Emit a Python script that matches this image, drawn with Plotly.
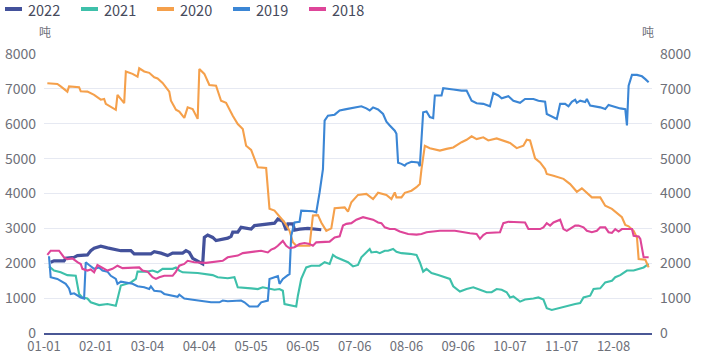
import pandas as pd
import plotly.graph_objects as go

# ---- categories (days of the year, MM-DD) ----
dates = list(pd.date_range("2021-01-01", "2021-12-31", freq="D").strftime("%m-%d"))
tick_idx = list(range(0, 342, 31))
tick_labels = [dates[i] for i in tick_idx]
y_ticks = [0, 1000, 2000, 3000, 4000, 5000, 6000, 7000, 8000]
unit = "吨"

# ---- series (day index -> tonnes) ----
d2022 = [4, 6, 12, 13, 18, 20, 26, 28, 30, 34, 38, 42, 46, 52, 54, 64, 66, 70, 74, 77, 83, 85, 87, 89, 92, 95, 96, 98, 101, 103, 110, 112, 113, 116, 118, 124, 126, 130, 138, 140, 143, 145, 146, 149, 150, 153, 158, 166]
v2022 = [2030, 2070, 2070, 2140, 2170, 2220, 2240, 2360, 2430, 2490, 2440, 2410, 2360, 2360, 2270, 2270, 2330, 2290, 2220, 2290, 2290, 2360, 2310, 2140, 2070, 1980, 2740, 2810, 2740, 2650, 2720, 2770, 2890, 2890, 3030, 2980, 3080, 3100, 3150, 3270, 3200, 2950, 3130, 3130, 2950, 2980, 3000, 2960]

d2021 = [3, 6, 10, 14, 19, 21, 23, 26, 28, 33, 38, 43, 46, 49, 52, 55, 56, 62, 65, 68, 71, 77, 79, 81, 83, 92, 96, 101, 104, 110, 114, 116, 124, 128, 131, 135, 138, 141, 143, 144, 149, 151, 152, 154, 157, 160, 165, 168, 171, 173, 175, 179, 182, 185, 188, 190, 193, 195, 196, 199, 201, 204, 206, 209, 211, 214, 219, 223, 225, 227, 229, 232, 236, 240, 243, 245, 249, 253, 257, 261, 265, 268, 271, 274, 277, 279, 281, 285, 288, 293, 296, 299, 301, 304, 308, 311, 314, 318, 321, 323, 327, 329, 333, 336, 340, 342, 345, 349, 353, 356, 359, 362]
v2021 = [1910, 1790, 1740, 1660, 1640, 1120, 1020, 990, 880, 800, 830, 780, 1360, 1410, 1450, 1550, 1760, 1760, 1790, 1740, 1840, 1840, 1880, 1790, 1740, 1720, 1690, 1660, 1600, 1570, 1600, 1310, 1280, 1260, 1310, 1260, 1240, 1260, 1210, 830, 780, 760, 1070, 1550, 1880, 1930, 1930, 2030, 1980, 2240, 2170, 2100, 2030, 1910, 1950, 2170, 2310, 2410, 2310, 2330, 2290, 2360, 2360, 2410, 2330, 2290, 2270, 2240, 2030, 1760, 1840, 1720, 1660, 1600, 1550, 1340, 1190, 1260, 1310, 1240, 1170, 1170, 1260, 1240, 1170, 1020, 1050, 900, 960, 990, 1020, 960, 710, 660, 710, 760, 800, 830, 860, 1020, 1070, 1260, 1280, 1450, 1500, 1600, 1660, 1790, 1790, 1840, 1880, 1980]

d2020 = [2, 8, 10, 14, 15, 21, 22, 26, 30, 34, 36, 37, 43, 44, 48, 49, 53, 56, 57, 60, 63, 66, 68, 71, 75, 76, 79, 81, 84, 86, 89, 92, 93, 96, 99, 103, 106, 109, 113, 116, 119, 121, 124, 126, 128, 133, 135, 138, 141, 144, 147, 149, 151, 159, 161, 164, 166, 169, 172, 174, 180, 182, 184, 188, 193, 197, 200, 205, 208, 210, 211, 214, 216, 220, 223, 225, 226, 228, 231, 237, 241, 245, 250, 253, 256, 259, 263, 266, 271, 279, 283, 287, 289, 291, 294, 297, 300, 301, 305, 311, 315, 319, 322, 325, 328, 333, 336, 340, 343, 346, 348, 350, 353, 355, 356, 360, 362]
v2020 = [7160, 7140, 7070, 6920, 7070, 7050, 6930, 6920, 6830, 6690, 6710, 6570, 6400, 6830, 6590, 7500, 7430, 7350, 7590, 7500, 7460, 7330, 7300, 7170, 6920, 6660, 6400, 6350, 6170, 6470, 6420, 6140, 7570, 7430, 7110, 7090, 6660, 6600, 6230, 5990, 5850, 5370, 5250, 4990, 4750, 4730, 3560, 3510, 3350, 3170, 2930, 2600, 2500, 2500, 3370, 3380, 3170, 2930, 3000, 3580, 3600, 3480, 3750, 3960, 3990, 3840, 4020, 3960, 3840, 4030, 3890, 3890, 4020, 4080, 4180, 4270, 4700, 5370, 5300, 5230, 5280, 5320, 5470, 5540, 5640, 5560, 5610, 5520, 5580, 5450, 5300, 5370, 5540, 5520, 5010, 4890, 4700, 4560, 4510, 4420, 4270, 4050, 4150, 4020, 3890, 3890, 3650, 3560, 3440, 3320, 3100, 3060, 2930, 2740, 2120, 2100, 1880]

d2019 = [3, 4, 8, 13, 15, 16, 18, 20, 22, 24, 25, 27, 30, 33, 35, 38, 40, 43, 44, 46, 49, 53, 56, 60, 63, 64, 66, 70, 72, 76, 80, 81, 84, 88, 92, 96, 100, 105, 107, 110, 113, 118, 120, 123, 128, 130, 134, 135, 138, 140, 141, 143, 146, 147, 148, 150, 153, 154, 161, 163, 165, 167, 168, 170, 174, 177, 181, 184, 187, 190, 193, 195, 197, 200, 203, 205, 207, 210, 211, 212, 214, 216, 217, 220, 224, 225, 227, 229, 231, 233, 234, 238, 239, 241, 245, 250, 253, 256, 259, 263, 267, 269, 272, 274, 278, 281, 285, 288, 293, 296, 300, 301, 305, 307, 309, 312, 314, 316, 318, 319, 321, 324, 325, 327, 333, 336, 338, 342, 345, 348, 349, 350, 352, 355, 358, 360, 362]
v2019 = [2200, 1600, 1550, 1410, 1280, 1120, 1140, 1070, 1020, 990, 2030, 1950, 1840, 1880, 1790, 1760, 1640, 1550, 1410, 1470, 1450, 1410, 1340, 1310, 1260, 1340, 1210, 1190, 1120, 1070, 1040, 1100, 990, 960, 930, 900, 880, 880, 930, 910, 910, 930, 880, 760, 760, 880, 930, 1550, 1600, 1630, 1410, 1550, 1660, 1690, 2790, 3170, 3190, 3510, 3490, 3460, 4030, 4700, 6090, 6230, 6260, 6380, 6420, 6440, 6470, 6500, 6440, 6380, 6470, 6410, 6280, 6060, 5950, 5800, 5710, 4880, 4850, 4800, 4850, 4910, 4890, 4780, 6330, 6350, 6190, 6160, 6810, 6810, 7020, 7000, 6980, 6950, 6950, 6660, 6590, 6570, 6500, 6880, 6810, 6730, 6790, 6660, 6600, 6710, 6710, 6660, 6630, 6280, 6190, 6140, 6570, 6570, 6500, 6630, 6690, 6600, 6660, 6620, 6710, 6520, 6470, 6420, 6540, 6470, 6440, 6420, 5950, 7090, 7400, 7400, 7360, 7280, 7190]

d2018 = [2, 4, 9, 12, 14, 17, 20, 22, 23, 26, 28, 30, 32, 35, 38, 41, 44, 47, 57, 59, 62, 65, 67, 69, 72, 77, 79, 81, 84, 86, 90, 97, 102, 107, 110, 116, 119, 127, 130, 134, 136, 138, 140, 143, 145, 147, 150, 153, 156, 159, 161, 163, 171, 174, 177, 179, 181, 184, 187, 191, 193, 197, 200, 202, 204, 207, 210, 213, 218, 223, 226, 229, 233, 237, 246, 250, 255, 259, 261, 263, 265, 273, 275, 278, 283, 288, 290, 297, 299, 301, 303, 305, 309, 311, 313, 315, 318, 320, 323, 325, 328, 331, 333, 336, 338, 340, 342, 344, 346, 352, 353, 356, 357, 359, 362]
v2018 = [2240, 2360, 2360, 2170, 2120, 2140, 2030, 1980, 1840, 1790, 1820, 1740, 1950, 1880, 1790, 1840, 1930, 1860, 1880, 1790, 1760, 1600, 1550, 1600, 1640, 1640, 1760, 1930, 1980, 2070, 2030, 2010, 2030, 2070, 2170, 2220, 2290, 2330, 2360, 2310, 2390, 2430, 2500, 2640, 2500, 2430, 2460, 2550, 2580, 2550, 2500, 2600, 2620, 2740, 2770, 3080, 3130, 3150, 3250, 3320, 3290, 3250, 3170, 3150, 3030, 2980, 2980, 2910, 2840, 2820, 2840, 2890, 2910, 2930, 2930, 2890, 2860, 2840, 2700, 2810, 2870, 2890, 3150, 3190, 3170, 3170, 2980, 2980, 3030, 3150, 3080, 3170, 3250, 2980, 2930, 3000, 3080, 3080, 3030, 2930, 2890, 2930, 3030, 3030, 2890, 2870, 2980, 2910, 2980, 2980, 2790, 2770, 2700, 2170, 2170]

series = [
    ("2022", d2022, v2022, "#43519b", 3.2),
    ("2021", d2021, v2021, "#3ec0aa", 2.1),
    ("2020", d2020, v2020, "#f5a04b", 2.1),
    ("2019", d2019, v2019, "#3b86d5", 2.1),
    ("2018", d2018, v2018, "#de4599", 2.1),
]

# ---- layout geometry (pixels) ----
W, H = 709, 358
L, R, T, B = 44, 57, 54, 25
PW, PH = W - L - R, H - T - B
FONT = "Microsoft YaHei, Noto Sans CJK SC, sans-serif"
TXT = "#6e7079"


def px(x):
    return (x - L) / PW


def py(y):
    return (H - B - y) / PH


fig = go.Figure()
for name, d, v, color, w in series:
    fig.add_trace(go.Scatter(
        x=[dates[i] for i in d], y=v, name=name, mode="lines",
        line=dict(color=color, width=w), showlegend=False,
        hoverinfo="x+y+name",
    ))
# invisible trace to anchor right axis
fig.add_trace(go.Scatter(x=[dates[0]], y=[0], yaxis="y2", mode="markers",
                         marker=dict(opacity=0), showlegend=False, hoverinfo="skip"))

fig.update_layout(
    template="none",
    width=W, height=H, autosize=False,
    margin=dict(l=L, r=R, t=T, b=B, pad=0),
    paper_bgcolor="white", plot_bgcolor="white",
    font=dict(family=FONT, size=13, color=TXT),
    showlegend=False,
    xaxis=dict(
        type="category", categoryorder="array", categoryarray=dates, automargin=False,
        range=[0, 364], tickmode="array", tickvals=tick_labels, ticktext=tick_labels,
        showgrid=False, zeroline=False, showline=True, linecolor="#4a5795", linewidth=2,
        ticks="", tickfont=dict(size=13, color=TXT), ticklabelstandoff=0,
    ),
    yaxis=dict(
        range=[0, 8000], tickvals=y_ticks, showgrid=True, gridcolor="#e6e9f2", gridwidth=1,
        zeroline=False, showline=False, ticks="", tickfont=dict(size=14, color=TXT),
        ticklabelstandoff=7, automargin=False,
    ),
    yaxis2=dict(
        range=[0, 8000], tickvals=y_ticks, overlaying="y", side="right", showgrid=False,
        zeroline=False, showline=False, ticks="", tickfont=dict(size=14, color=TXT),
        ticklabelstandoff=7, automargin=False,
    ),
    hovermode="x",
)

# unit labels
fig.add_annotation(text=unit, x=px(45), y=py(32), xref="paper", yref="paper",
                   showarrow=False, font=dict(size=12, color=TXT), xanchor="center", yanchor="middle")
fig.add_annotation(text=unit, x=px(648), y=py(32), xref="paper", yref="paper",
                   showarrow=False, font=dict(size=12, color=TXT), xanchor="center", yanchor="middle")

# legend (custom, echarts-like)
for i, (name, d, v, color, w) in enumerate(series):
    x0 = 5 + 76 * i
    fig.add_shape(type="line", xref="paper", yref="paper",
                  x0=px(x0), x1=px(x0 + 17), y0=py(9), y1=py(9),
                  line=dict(color=color, width=4))
    fig.add_annotation(text=name, x=px(x0 + 22), y=py(9.5), xref="paper", yref="paper",
                       showarrow=False, xanchor="left", yanchor="middle",
                       font=dict(size=14.5, color="#464a5c"), borderpad=0)

fig.write_html(
    "out.html",
    config={"displayModeBar": False},
    post_script="document.body.style.margin='0';document.body.style.padding='0';",
)
